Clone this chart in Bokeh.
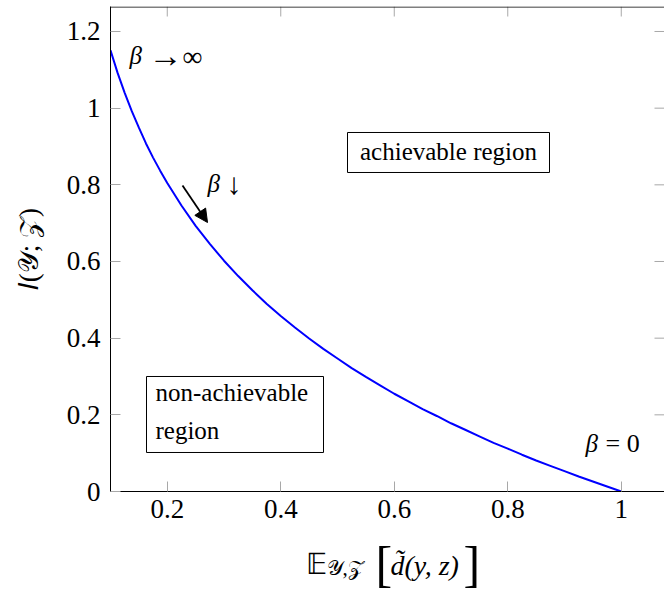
from bokeh.plotting import figure
from bokeh.models import Label, Arrow, NormalHead, FixedTicker, Range1d, Span
from bokeh.layouts import column
from bokeh.core.properties import value
from bokeh.embed import file_html
from bokeh.resources import INLINE

# Data
distortion = [0.100, 0.1125, 0.125, 0.1375, 0.150, 0.1625, 0.175, 0.1875, 0.200,
              0.225, 0.250, 0.275, 0.300, 0.325, 0.350, 0.375, 0.400, 0.425,
              0.450, 0.475, 0.500, 0.525, 0.550, 0.575, 0.600, 0.625, 0.650,
              0.675, 0.700, 0.725, 0.750, 0.775, 0.800, 0.825, 0.850, 0.875,
              0.900, 0.925, 0.950, 0.975, 1.000]
mutual_info = [1.151, 1.092, 1.040, 0.992, 0.949, 0.908, 0.871, 0.837, 0.805,
               0.746, 0.693, 0.646, 0.602, 0.562, 0.525, 0.490, 0.458, 0.428,
               0.399, 0.372, 0.347, 0.322, 0.299, 0.277, 0.255, 0.235, 0.215,
               0.197, 0.178, 0.161, 0.144, 0.127, 0.112, 0.096, 0.081, 0.067,
               0.053, 0.039, 0.026, 0.013, 0.000]
x_ticks = [0.2, 0.4, 0.6, 0.8, 1.0]
x_tick_labels = ["0.2", "0.4", "0.6", "0.8", "1"]
y_ticks = [0.0, 0.2, 0.4, 0.6, 0.8, 1.0, 1.2]
y_tick_labels = ["0", "0.2", "0.4", "0.6", "0.8", "1", "1.2"]

SERIF = "Liberation Serif"
TICK_GREY = "#a8a8a8"
X0, X1 = 0.1, 1.0762
Y0, Y1 = 0.0, 1.2652
PX_X = 567.5    # pixels per x unit
PX_Y = 383.33   # pixels per y unit

p = figure(width=664, height=535, output_backend="svg", toolbar_location=None,
           x_range=Range1d(X0, X1), y_range=Range1d(Y0, Y1),
           min_border_left=110, min_border_right=0, min_border_top=6,
           min_border_bottom=44)
p.outline_line_color = None
p.xgrid.visible = False
p.ygrid.visible = False
p.background_fill_color = "white"
p.border_fill_color = "white"

def style_axis(ax, ticks, labels):
    ax.ticker = FixedTicker(ticks=ticks)
    ax.major_label_overrides = {t: l for t, l in zip(ticks, labels)}
    ax.minor_tick_line_color = None
    ax.major_tick_in = 10
    ax.major_tick_out = 0
    ax.major_tick_line_color = TICK_GREY
    ax.major_tick_line_width = 1
    ax.axis_line_color = "black"
    ax.axis_line_width = 1
    ax.major_label_text_font = SERIF
    ax.major_label_text_font_size = "27px"
    ax.major_label_text_color = "black"

style_axis(p.xaxis[0], x_ticks, x_tick_labels)
p.xaxis[0].major_label_standoff = 8
style_axis(p.yaxis[0], y_ticks, y_tick_labels)
p.yaxis[0].major_label_standoff = 10
p.yaxis[0].axis_label = "𝐼(𝒴; 𝒵)"
p.yaxis[0].axis_label_text_font = SERIF
p.yaxis[0].axis_label_text_font_size = "27px"
p.yaxis[0].axis_label_text_font_style = "normal"
p.yaxis[0].axis_label_text_color = "black"
p.yaxis[0].axis_label_standoff = 20

# top frame line and mirrored ticks (top / right)
p.add_layout(Span(location=Y1 - 0.5 / PX_Y, dimension="width",
                  line_color="black", line_width=1))
p.segment(x0=x_ticks, y0=[Y1] * len(x_ticks), x1=x_ticks,
          y1=[Y1 - 10 / PX_Y] * len(x_ticks), line_color=TICK_GREY, line_width=1)
p.segment(x0=[X1] * len(y_ticks), y0=y_ticks, x1=[X1 - 10 / PX_X] * len(y_ticks),
          y1=y_ticks, line_color=TICK_GREY, line_width=1)

# the curve
p.line(distortion, mutual_info, line_color="#0000ff", line_width=2)

# pixel -> data conversion for annotation placement
def X(px):
    return X0 + (px - 110) / PX_X

def Y(py):
    return (491 - py) / PX_Y

# boxes
p.quad(left=X(347), right=X(549), bottom=Y(172), top=Y(132),
       fill_color="white", line_color="black", line_width=1)
p.quad(left=X(146), right=X(323), bottom=Y(452), top=Y(376),
       fill_color="white", line_color="black", line_width=1)

def lab(x, y, text, size, style="normal", align="left", font=SERIF):
    p.add_layout(Label(x=x, y=y, text=text, text_font=font, text_font_size=size,
                       text_font_style=style, text_align=align,
                       text_baseline="middle", text_color="black"))

lab(X(448), Y(151), "achievable region", "25px", align="center")
lab(X(155), Y(392), "non-achievable", "25px")
lab(X(155), Y(430), "region", "25px")

# beta annotations
lab(X(129), Y(55), "β", "25px", style="italic")
lab(X(148), Y(55), "→", "34px")
lab(X(182), Y(56), "∞", "28px")
lab(X(207), Y(183), "β", "25px", style="italic")
lab(X(226), Y(183), "↓", "30px")
lab(X(585), Y(443), "β", "25px", style="italic")
lab(X(605), Y(443), "= 0", "26px")

p.add_layout(Arrow(end=NormalHead(size=13, fill_color="black", line_color="black"),
                   x_start=X(182), y_start=Y(185), x_end=X(207), y_end=Y(222),
                   line_color="black", line_width=1.8))

# x-axis label drawn in a strip below the chart; the column aligns the
# strip's frame with the chart's frame, so the same x scale applies.
strip = figure(width=664, height=60, output_backend="svg", toolbar_location=None,
               x_range=Range1d(X0, X1), y_range=Range1d(0, 60),
               x_axis_location=None, y_axis_location=None,
               min_border_left=110, min_border_right=0,
               min_border_top=0, min_border_bottom=0)
strip.outline_line_color = None
strip.xgrid.visible = False
strip.ygrid.visible = False

def sy(py):
    return 595 - py

def stext(px, py, text, size, style="normal", font=SERIF):
    strip.text(x=[X(px)], y=[sy(py)], text=[text], text_font=value(font),
               text_font_size=value(size), text_font_style=style,
               text_baseline="alphabetic", text_align="left", text_color="black")

stext(305, 563, "𝔼", "29px")
stext(326, 567, "𝒴,𝒵", "21px")
stext(375, 563, "[", "50px")
stext(390, 565, "d\u0303(y, z)", "28px", style="italic")
stext(463, 563, "]", "50px")

layout = column(p, strip, spacing=0)
open("out.html", "w").write(file_html(layout, INLINE))
